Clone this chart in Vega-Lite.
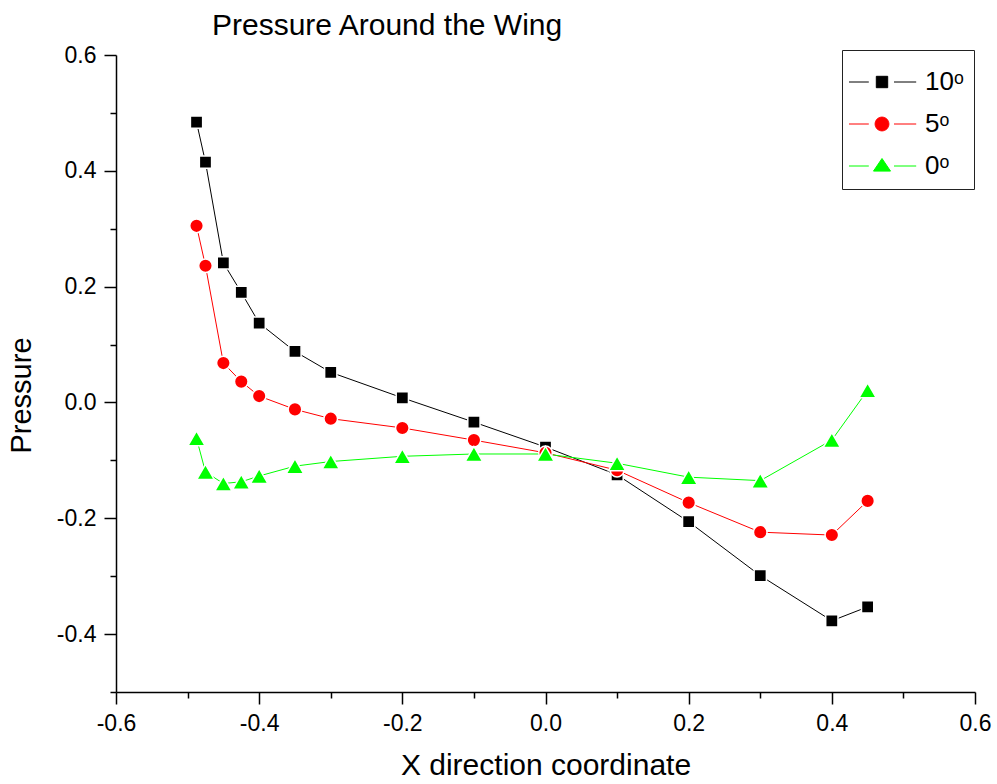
{
  "$schema": "https://vega.github.io/schema/vega-lite/v6.json",
  "width": 859,
  "height": 637,
  "autosize": "none",
  "padding": {"left": 116, "top": 55, "right": 22, "bottom": 92},
  "background": "white",
  "config": {"view": {"stroke": null}},
  "title": {"text": "Pressure Around the Wing", "anchor": "start", "frame": "group", "dx": 96, "fontSize": 30, "font": "Liberation Sans", "fontWeight": "normal", "color": "black", "offset": 3},
  "data": {"values": [
    {"x": -0.4875, "p": 0.484, "s": "10ᵒ"},
    {"x": -0.475, "p": 0.415, "s": "10ᵒ"},
    {"x": -0.45, "p": 0.241, "s": "10ᵒ"},
    {"x": -0.425, "p": 0.190, "s": "10ᵒ"},
    {"x": -0.4, "p": 0.137, "s": "10ᵒ"},
    {"x": -0.35, "p": 0.088, "s": "10ᵒ"},
    {"x": -0.3, "p": 0.052, "s": "10ᵒ"},
    {"x": -0.2, "p": 0.008, "s": "10ᵒ"},
    {"x": -0.1, "p": -0.034, "s": "10ᵒ"},
    {"x": 0.0, "p": -0.077, "s": "10ᵒ"},
    {"x": 0.1, "p": -0.125, "s": "10ᵒ"},
    {"x": 0.2, "p": -0.206, "s": "10ᵒ"},
    {"x": 0.3, "p": -0.299, "s": "10ᵒ"},
    {"x": 0.4, "p": -0.377, "s": "10ᵒ"},
    {"x": 0.45, "p": -0.353, "s": "10ᵒ"},
    {"x": -0.4875, "p": 0.305, "s": "5ᵒ"},
    {"x": -0.475, "p": 0.236, "s": "5ᵒ"},
    {"x": -0.45, "p": 0.068, "s": "5ᵒ"},
    {"x": -0.425, "p": 0.036, "s": "5ᵒ"},
    {"x": -0.4, "p": 0.011, "s": "5ᵒ"},
    {"x": -0.35, "p": -0.012, "s": "5ᵒ"},
    {"x": -0.3, "p": -0.028, "s": "5ᵒ"},
    {"x": -0.2, "p": -0.044, "s": "5ᵒ"},
    {"x": -0.1, "p": -0.065, "s": "5ᵒ"},
    {"x": 0.0, "p": -0.087, "s": "5ᵒ"},
    {"x": 0.1, "p": -0.117, "s": "5ᵒ"},
    {"x": 0.2, "p": -0.173, "s": "5ᵒ"},
    {"x": 0.3, "p": -0.224, "s": "5ᵒ"},
    {"x": 0.4, "p": -0.229, "s": "5ᵒ"},
    {"x": 0.45, "p": -0.170, "s": "5ᵒ"},
    {"x": -0.4875, "p": -0.062, "s": "0ᵒ"},
    {"x": -0.475, "p": -0.120, "s": "0ᵒ"},
    {"x": -0.45, "p": -0.140, "s": "0ᵒ"},
    {"x": -0.425, "p": -0.137, "s": "0ᵒ"},
    {"x": -0.4, "p": -0.127, "s": "0ᵒ"},
    {"x": -0.35, "p": -0.110, "s": "0ᵒ"},
    {"x": -0.3, "p": -0.102, "s": "0ᵒ"},
    {"x": -0.2, "p": -0.093, "s": "0ᵒ"},
    {"x": -0.1, "p": -0.089, "s": "0ᵒ"},
    {"x": 0.0, "p": -0.089, "s": "0ᵒ"},
    {"x": 0.1, "p": -0.105, "s": "0ᵒ"},
    {"x": 0.2, "p": -0.129, "s": "0ᵒ"},
    {"x": 0.3, "p": -0.135, "s": "0ᵒ"},
    {"x": 0.4, "p": -0.065, "s": "0ᵒ"},
    {"x": 0.45, "p": 0.021, "s": "0ᵒ"}
  ]},
  "resolve": {"axis": {"x": "independent", "y": "independent"}},
  "layer": [
    {
      "mark": {"type": "line", "strokeWidth": 1},
      "encoding": {
        "x": {"field": "x", "type": "quantitative",
          "scale": {"domain": [-0.6, 0.6], "nice": false, "zero": false},
          "axis": {"orient": "bottom", "values": [-0.6, -0.4, -0.2, 0, 0.2, 0.4, 0.6], "format": ".1f", "labelExpr": "replace(datum.label, '−', '-')",
            "tickSize": 12, "tickWidth": 1.5, "domainWidth": 1.5, "domainColor": "black", "tickColor": "black",
            "labelFontSize": 23, "labelFont": "Liberation Sans", "labelColor": "black", "labelPadding": 8,
            "labelFlush": false, "labelOverlap": false, "grid": false,
            "title": "X direction coordinate", "titleFontSize": 30, "titleFont": "Liberation Sans", "titleFontWeight": "normal", "titleColor": "black", "titlePadding": 15}},
        "y": {"field": "p", "type": "quantitative",
          "scale": {"domain": [-0.5, 0.6], "nice": false, "zero": false},
          "axis": {"orient": "left", "values": [-0.4, -0.2, 0, 0.2, 0.4, 0.6], "format": ".1f", "labelExpr": "replace(datum.label, '−', '-')",
            "tickSize": 12, "tickWidth": 1.5, "domainWidth": 1.5, "domainColor": "black", "tickColor": "black",
            "labelFontSize": 23, "labelFont": "Liberation Sans", "labelColor": "black", "labelPadding": 8,
            "labelFlush": false, "labelOverlap": false, "grid": false,
            "title": "Pressure", "titleFontSize": 29, "titleFont": "Liberation Sans", "titleFontWeight": "normal", "titleColor": "black", "titlePadding": 20, "titleY": 340}},
        "color": {"field": "s", "type": "nominal",
          "scale": {"domain": ["10ᵒ", "5ᵒ", "0ᵒ"], "range": ["#000000", "#ff0000", "#00ff00"]},
          "legend": {"orient": "none", "legendX": 726, "legendY": -5, "title": " ", "titleFontSize": 9, "titlePadding": 0,
            "strokeColor": "#222222", "padding": 10, "labelFontSize": 26, "labelFont": "Liberation Sans", "labelColor": "black",
            "labelOffset": 30, "symbolOffset": 17, "rowPadding": 16, "symbolSize": 144, "labelLimit": 200,
            "encode": {"symbols": {"update": {
              "shape": {"signal": "datum.value === '10ᵒ' ? 'M-5.5,0H-2.2M2,0H5.7M-0.95,-0.95H0.95V0.95H-0.95Z' : datum.value === '5ᵒ' ? 'M-5.5,0H-2.2M2,0H5.7M-1.15,0A1.15,1.15 0 1,0 1.15,0A1.15,1.15 0 1,0 -1.15,0Z' : 'M-5.5,0H-2.2M2,0H5.7M0,-1.25L1.42,0.85L-1.42,0.85Z'"},
              "size": {"value": 144},
              "fill": {"scale": "color", "field": "value"},
              "stroke": {"scale": "color", "field": "value"},
              "strokeWidth": {"value": 1},
              "opacity": {"value": 1},
              "fillOpacity": {"value": 1},
              "strokeOpacity": {"value": 1}
            }}}}
        }
      }
    },
    {
      "transform": [{"filter": "datum.s === '10ᵒ'"}],
      "mark": {"type": "point", "shape": "square", "size": 150, "filled": true, "opacity": 1, "stroke": "white", "strokeWidth": 1.5},
      "encoding": {
        "x": {"field": "x", "type": "quantitative",
          "axis": {"orient": "bottom", "values": [-0.5, -0.3, -0.1, 0.1, 0.3, 0.5], "labels": false, "domain": false,
            "tickSize": 6, "tickWidth": 1.5, "tickColor": "black", "grid": false, "title": null}},
        "y": {"field": "p", "type": "quantitative",
          "axis": {"orient": "left", "values": [-0.5, -0.3, -0.1, 0.1, 0.3, 0.5], "labels": false, "domain": false,
            "tickSize": 6, "tickWidth": 1.5, "tickColor": "black", "grid": false, "title": null}},
        "color": {"field": "s", "type": "nominal"}
      }
    },
    {
      "transform": [{"filter": "datum.s === '5ᵒ'"}],
      "mark": {"type": "point", "shape": "circle", "size": 185, "filled": true, "opacity": 1, "stroke": "white", "strokeWidth": 1.5},
      "encoding": {
        "x": {"field": "x", "type": "quantitative", "axis": null},
        "y": {"field": "p", "type": "quantitative", "axis": null},
        "color": {"field": "s", "type": "nominal"}
      }
    },
    {
      "transform": [{"filter": "datum.s === '0ᵒ'"}],
      "mark": {"type": "point", "shape": "triangle-up", "size": 300, "filled": true, "opacity": 1, "stroke": "white", "strokeWidth": 1.5},
      "encoding": {
        "x": {"field": "x", "type": "quantitative", "axis": null},
        "y": {"field": "p", "type": "quantitative", "axis": null},
        "color": {"field": "s", "type": "nominal"}
      }
    }
  ]
}
